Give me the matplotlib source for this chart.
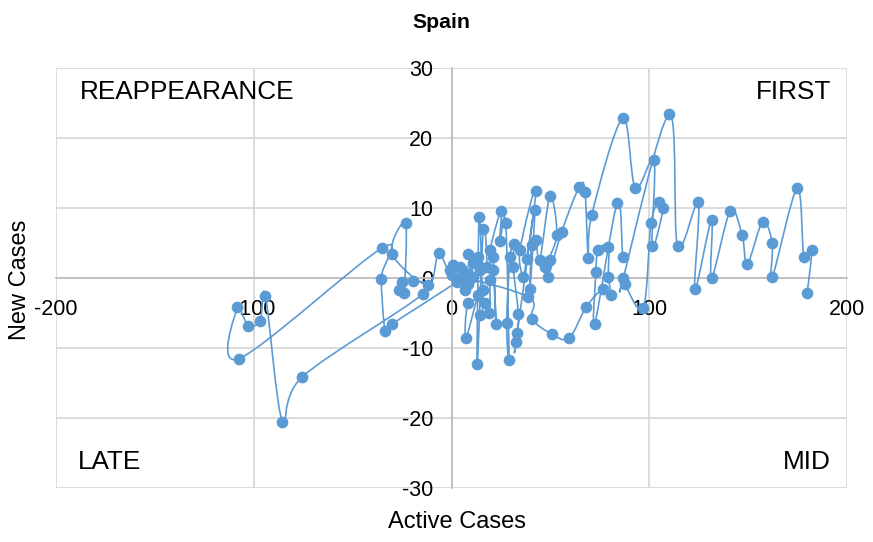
import matplotlib
matplotlib.use("Agg")
import matplotlib.pyplot as plt
from matplotlib.path import Path
from matplotlib.patches import PathPatch
import numpy as np

plt.rcParams['font.family'] = ['Liberation Sans', 'DejaVu Sans']

title = "Spain"
x_label = "Active Cases"
y_label = "New Cases"
quadrant_labels = ["REAPPEARANCE", "FIRST", "LATE", "MID"]
x_ticks = [-200, -100, 0, 100, 200]
y_ticks = [-30, -20, -10, 0, 10, 20, 30]

# points in drawing order (x = active cases, y = new cases)
active_cases = [
    179.9, 182.1, 178.2, 174.8, 162.2, 162.2, 157.3, 149.6, 147.0, 141.0,
    131.5, 131.5, 123.1, 124.8, 114.3, 110.0, 86.9, 87.7, 97.0, 100.9,
    104.9, 107.1, 101.5, 102.4, 92.9, 86.5, 70.9, 69.2, 67.5, 64.6,
    55.7, 48.9, 49.8, 47.3, 53.2, 49.8, 44.7, 42.6, 40.5, 39.7,
    42.1, 38.0, 36.3, 34.6, 42.7, 32.6, 33.0, 33.8, 31.2, 31.6,
    29.6, 27.9, 29.1, 27.4, 24.5, 25.0, 19.5, 21.1, 22.5, 21.1,
    19.5, 19.1, 14.4, 16.9, 8.5, 7.3, 13.5, 16.1, 13.5, 17.8,
    16.1, 13.0, 13.9, 14.4, 6.0, 3.0,
    -30.2, -33.6, -35.6, -35.0, -107.3, -108.3, -102.7, -96.8, -94.1, -85.5,
    -75.4, -14.6, -19.6, -25.2, -26.4, -24.0, -23.2, -30.1, -12.0, -6.5,
    -0.8, 11.0, 8.5, 11.0, 8.5, 6.8, 4.3, 7.7, 4.3, 0.9, 2.6, 0.5, 38.8,
    40.6, 50.6, 59.4, 68.0, 76.4, 80.6, 79.3, 79.3, 74.2, 73.0, 72.5, 83.8, 86.5,
]
new_cases = [
    -2.1, 4.0, 3.0, 12.8, 0.1, 5.0, 8.0, 2.0, 6.1, 9.6,
    0.0, 8.3, -1.6, 10.8, 4.6, 23.4, 0.0, -0.9, -4.3, 7.8,
    10.8, 10.0, 4.6, 16.9, 12.9, 22.8, 9.0, 2.8, 12.3, 13.0,
    6.6, 0.1, 2.6, 1.6, 6.1, 11.7, 2.6, 5.4, 4.7, -1.5,
    9.7, 2.7, 0.2, 4.0, 12.5, -9.1, -7.9, -5.1, 1.6, 4.9,
    3.0, -6.4, -11.7, 7.9, 5.3, 9.6, 4.0, 3.0, -6.6, 1.1,
    -0.3, -5.0, -5.3, -3.6, -3.6, -8.6, -2.4, -1.7, 3.0, 1.6,
    7.0, -12.3, 8.7, 1.1, 0.5, -0.5,
    -6.6, -7.5, -0.1, 4.3, -11.5, -4.2, -6.8, -6.1, -2.5, -20.5,
    -14.1, -2.3, -0.4, -0.5, -1.7, -2.2, 7.8, 3.5, -1.0, 3.6,
    1.1, 2.1, 3.5, 0.2, -0.8, -1.7, -0.3, 0.7, 1.6, 1.8, -0.3, 0.5, -2.7,
    -5.8, -8.0, -8.6, -4.2, -1.6, -2.4, 0.2, 4.5, 4.0, 0.8, -6.5, 10.7, 3.0,
]

color = '#5B9BD5'

fig = plt.figure(figsize=(8.73, 5.42), dpi=100)
ax = fig.add_axes([56 / 873, 1 - 488 / 542, (847 - 56) / 873, (488 - 68) / 542])
ax.set_xlim(-200, 200)
ax.set_ylim(-30, 30)
ax.set_xticks(x_ticks)
ax.set_yticks(y_ticks)
ax.set_xticklabels([str(v) for v in x_ticks])
ax.set_yticklabels([str(v) for v in y_ticks])
ax.grid(True, color='#D9D9D9', linewidth=1.3)
ax.set_axisbelow(True)
for gl in ax.get_xgridlines() + ax.get_ygridlines():
    gl.set_clip_on(False)
for s in ['top', 'right']:
    ax.spines[s].set_visible(False)
for s in ['left', 'bottom']:
    ax.spines[s].set_position(('data', 0))
    ax.spines[s].set_color('#BFBFBF')
    ax.spines[s].set_linewidth(1.3)
    ax.spines[s].set_zorder(1.5)
ax.tick_params(length=0, labelsize=15.5, colors='#000000', pad=13)
ax.tick_params(axis='x', pad=15)

# smoothed line (Catmull-Rom -> cubic Bezier, like a spreadsheet smooth line)
pts = np.column_stack([active_cases, new_cases])
n = len(pts)
verts = [pts[0]]
codes = [Path.MOVETO]
for i in range(n - 1):
    p0 = pts[i - 1] if i > 0 else pts[i]
    p1 = pts[i]
    p2 = pts[i + 1]
    p3 = pts[i + 2] if i + 2 < n else pts[i + 1]
    c1 = p1 + (p2 - p0) / 6.0
    c2 = p2 - (p3 - p1) / 6.0
    verts += [c1, c2, p2]
    codes += [Path.CURVE4] * 3
ax.add_patch(PathPatch(Path(verts, codes), facecolor='none', edgecolor=color,
                       linewidth=1.2, zorder=3))
ax.plot(active_cases, new_cases, linestyle='none', marker='o', markersize=7.4,
        color=color, zorder=4)

fs_q = 18.8
ax.text((80 - 56) / 791, (488 - 92) / 420, quadrant_labels[0], transform=ax.transAxes,
        ha='left', va='center', fontsize=fs_q)
ax.text((831 - 56) / 791, (488 - 92) / 420, quadrant_labels[1], transform=ax.transAxes,
        ha='right', va='center', fontsize=fs_q)
ax.text((78 - 56) / 791, (488 - 462) / 420, quadrant_labels[2], transform=ax.transAxes,
        ha='left', va='center', fontsize=fs_q)
ax.text((831 - 56) / 791, (488 - 462) / 420, quadrant_labels[3], transform=ax.transAxes,
        ha='right', va='center', fontsize=fs_q)

fig.text(441 / 873, 1 - 22 / 542, title, ha='center', va='center', fontsize=15.3,
         fontweight='bold')
fig.text(457 / 873, 1 - 522 / 542, x_label, ha='center', va='center', fontsize=17)
fig.text(20 / 873, 1 - 280 / 542, y_label, ha='center', va='center', fontsize=17,
         rotation=90)

fig.savefig('out.png', dpi=100)
